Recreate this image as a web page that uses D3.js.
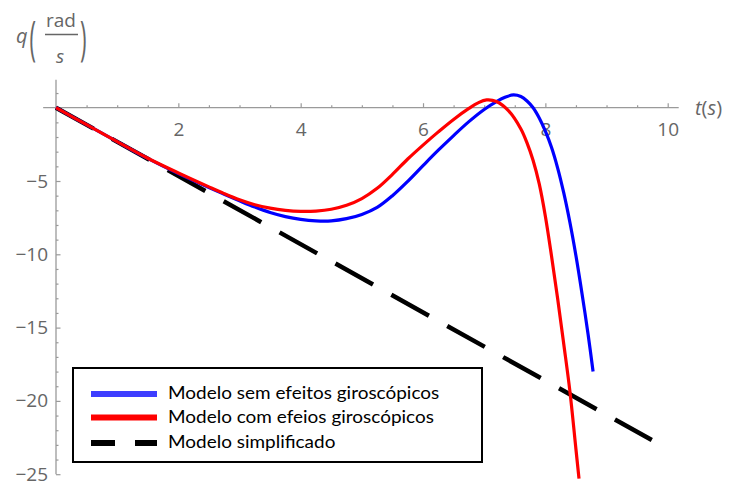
<!DOCTYPE html>
<html>
<head>
<meta charset="utf-8">
<script src="https://cdn.jsdelivr.net/npm/d3@7/dist/d3.min.js"></script>
<style>
  body { margin: 0; background: #fff; }
  svg { display: block; }
</style>
</head>
<body>
<svg id="chart" width="731" height="486"></svg>
<script>
// Pitch rate q (rad/s) over time t (s) for three aircraft models

// Model without gyroscopic effects
const tSemGiro = [0, 0.5, 1.0, 1.5, 2.0, 2.5, 2.75, 3.0, 3.25, 3.5, 3.75, 4.0, 4.25, 4.5, 4.75, 5.0, 5.25, 5.5, 5.75, 6.0, 6.25, 6.5, 6.75, 7.0, 7.2, 7.35, 7.48, 7.6, 7.7, 7.8, 7.9, 8.0, 8.1, 8.2, 8.3, 8.4, 8.5, 8.6, 8.7, 8.78];
const qSemGiro = [0, -1.16, -2.32, -3.46, -4.5, -5.45, -5.9, -6.35, -6.78, -7.15, -7.43, -7.62, -7.72, -7.72, -7.57, -7.28, -6.8, -6.0, -5.02, -3.95, -2.9, -1.9, -0.95, -0.12, 0.42, 0.73, 0.87, 0.76, 0.46, 0.0, -0.7, -1.6, -2.7, -4.1, -5.8, -7.8, -10.1, -12.7, -15.5, -18.0];

// Model with gyroscopic effects
const tComGiro = [0, 0.5, 1.0, 1.5, 2.0, 2.5, 2.75, 3.0, 3.25, 3.5, 3.75, 4.0, 4.25, 4.5, 4.75, 5.0, 5.25, 5.5, 5.75, 6.0, 6.25, 6.5, 6.75, 6.9, 7.04, 7.2, 7.4, 7.6, 7.7, 7.8, 7.9, 8.0, 8.1, 8.2, 8.3, 8.4, 8.5, 8.55];
const qComGiro = [0, -1.16, -2.32, -3.45, -4.45, -5.4, -5.86, -6.28, -6.62, -6.85, -7.0, -7.07, -7.05, -6.93, -6.66, -6.2, -5.5, -4.55, -3.5, -2.55, -1.65, -0.8, -0.05, 0.33, 0.53, 0.42, -0.22, -1.45, -2.4, -3.6, -5.2, -7.4, -10.1, -13.0, -16.1, -19.3, -23.3, -25.3];

// Simplified (linear) model
const tSimples = [0, 9.74];
const qSimples = [0, -22.67];

// Axis ticks
const xMajorTicks = [2, 4, 6, 8, 10];
const xMinorTicks = d3.range(0.5, 10.01, 0.5).filter(v => !xMajorTicks.includes(v));
const yMajorTicks = [-5, -10, -15, -20, -25];
const yMinorTicks = d3.range(1, -25.01, -1).filter(v => v !== 0 && !yMajorTicks.includes(v));

// Legend entries
const legendLabels = ["Modelo sem efeitos giroscópicos", "Modelo com efeios giroscópicos", "Modelo simplificado"];
const legendColors = ["#3d3dff", "#ff0000", "#000000"];

const svg = d3.select("#chart");
const axisColor = "#9a9a9a";
const labelColor = "#666666";
const tickFont = "'Open Sans', 'Noto Sans', sans-serif";

const x = d3.scaleLinear().domain([0, 10]).range([56, 667.7]);
const y = d3.scaleLinear().domain([0, -25]).range([107.7, 474.2]);

// Axis lines
svg.append("line")
  .attr("x1", x(-0.21)).attr("x2", x(10.18))
  .attr("y1", y(0)).attr("y2", y(0))
  .attr("stroke", axisColor).attr("stroke-width", 1.3);
svg.append("line")
  .attr("x1", x(0)).attr("x2", x(0))
  .attr("y1", y(1.9)).attr("y2", y(-25))
  .attr("stroke", axisColor).attr("stroke-width", 1.3);

// x axis: ticks pointing up, labels below
const xMinor = svg.append("g").attr("transform", `translate(0,${y(0)})`)
  .call(d3.axisBottom(x).tickValues(xMinorTicks).tickSize(-2.5).tickFormat(""));
const xMajor = svg.append("g").attr("transform", `translate(0,${y(0)})`)
  .call(d3.axisBottom(x).tickValues(xMajorTicks).tickSize(-4.5).tickPadding(15).tickFormat(d3.format("d")));

// y axis: ticks pointing right, labels left
const yMinor = svg.append("g").attr("transform", `translate(${x(0)},0)`)
  .call(d3.axisLeft(y).tickValues(yMinorTicks).tickSize(-2.5).tickFormat(""));
const yMajor = svg.append("g").attr("transform", `translate(${x(0)},0)`)
  .call(d3.axisLeft(y).tickValues(yMajorTicks).tickSize(-4.5).tickPadding(8)
    .tickFormat(d => d < 0 ? "\u2212" + Math.abs(d) : String(d)));

[xMinor, xMajor, yMinor, yMajor].forEach(g => {
  g.select(".domain").remove();
  g.selectAll(".tick line").attr("stroke", axisColor).attr("stroke-width", 1.2);
  g.selectAll(".tick text").attr("fill", labelColor)
    .style("font-family", tickFont).style("font-size", "19px");
});

// Curves
const line = d3.line().x(d => x(d[0])).y(d => y(d[1])).curve(d3.curveCatmullRom.alpha(0.5));
const zip = (ts, qs) => ts.map((t, i) => [t, qs[i]]);

svg.append("path")
  .attr("d", d3.line().x(d => x(d[0])).y(d => y(d[1]))(zip(tSimples, qSimples)))
  .attr("fill", "none").attr("stroke", "#000").attr("stroke-width", 4.5)
  .attr("stroke-dasharray", "43,21");
svg.append("path")
  .attr("d", line(zip(tSemGiro, qSemGiro)))
  .attr("fill", "none").attr("stroke", "#0000ff").attr("stroke-width", 3.2)
  .attr("stroke-linejoin", "round");
svg.append("path")
  .attr("d", line(zip(tComGiro, qComGiro)))
  .attr("fill", "none").attr("stroke", "#ff0000").attr("stroke-width", 3.2)
  .attr("stroke-linejoin", "round");

// Axis titles
const xTitle = svg.append("text").attr("x", 695).attr("y", 115)
  .attr("fill", labelColor).style("font-family", tickFont).style("font-size", "20px");
xTitle.append("tspan").attr("font-style", "italic").text("t");
xTitle.append("tspan").text("(");
xTitle.append("tspan").attr("font-style", "italic").text("s");
xTitle.append("tspan").text(")");

const yTitle = svg.append("g").attr("fill", labelColor).style("font-family", tickFont);
yTitle.append("text").attr("x", 16).attr("y", 43).attr("font-style", "italic")
  .style("font-size", "20px").text("q");
yTitle.append("text").attr("transform", "translate(29.5,55) scale(1,2.15)")
  .style("font-size", "22px").text("(");
yTitle.append("text").attr("transform", "translate(80,55) scale(1,2.15)")
  .style("font-size", "22px").text(")");
yTitle.append("text").attr("x", 61).attr("y", 27).attr("text-anchor", "middle")
  .style("font-size", "19px").text("rad");
yTitle.append("line").attr("x1", 45).attr("x2", 78).attr("y1", 34.5).attr("y2", 34.5)
  .attr("stroke", labelColor).attr("stroke-width", 1.3);
yTitle.append("text").attr("x", 60).attr("y", 63).attr("text-anchor", "middle")
  .attr("font-style", "italic").style("font-size", "19px").text("s");

// Legend
const legend = svg.append("g");
legend.append("rect").attr("x", 73).attr("y", 368).attr("width", 409).attr("height", 94)
  .attr("fill", "#fff").attr("stroke", "#000").attr("stroke-width", 2);
const rowY = [394, 417.5, 443];
legendLabels.forEach((lab, i) => {
  const g = legend.append("g");
  const sw = g.append("line").attr("x1", 91).attr("x2", 157).attr("y1", rowY[i]).attr("y2", rowY[i])
    .attr("stroke", legendColors[i]).attr("stroke-width", 6);
  if (i === 2) sw.attr("stroke-dasharray", "24,20");
  g.append("text").attr("transform", `translate(168,${rowY[i] + 5}) scale(1.115,1)`)
    .style("font-family", "Lato, 'Open Sans', sans-serif").style("font-size", "17px")
    .attr("fill", "#000").text(lab);
});
</script>
</body>
</html>
